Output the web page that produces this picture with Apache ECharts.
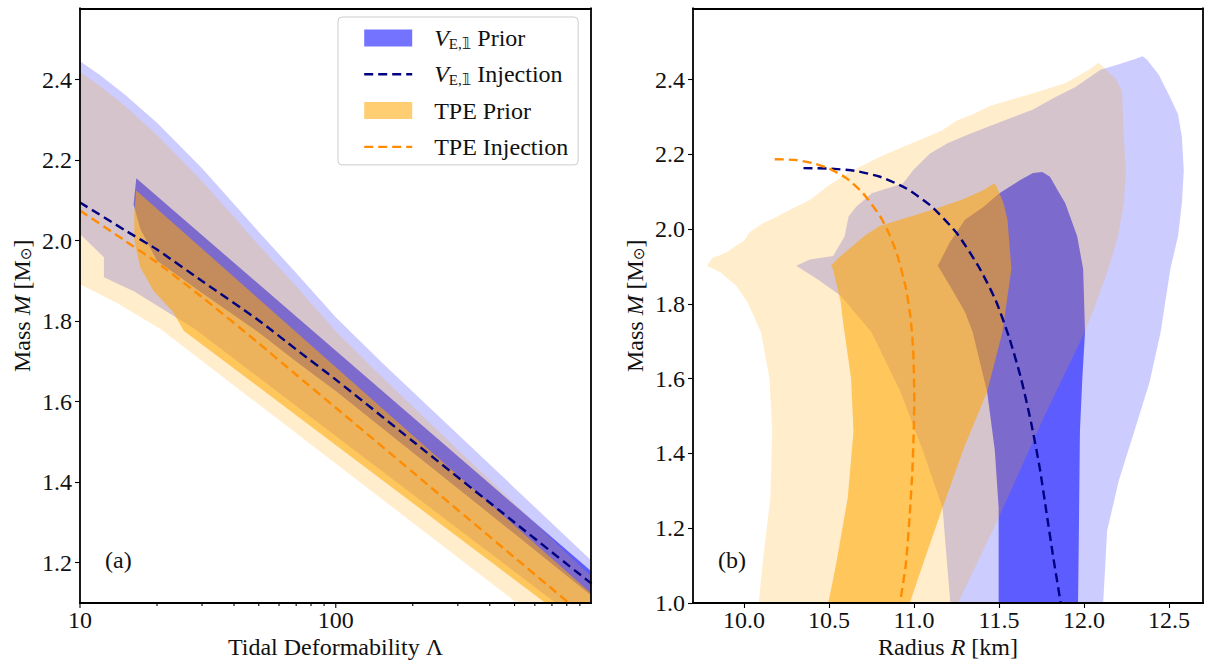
<!DOCTYPE html>
<html>
<head>
<meta charset="utf-8">
<script src="https://cdn.jsdelivr.net/npm/echarts@6.0.0/dist/echarts.min.js"></script>
<style>html,body{margin:0;padding:0;background:#fff}#c{width:1207px;height:662px}</style>
</head>
<body>
<div id="c"></div>
<script>
// ---------------- DATA ----------------
// Axis tick values
const LAMBDA_TICKS = [10, 100];
const LAMBDA_MINOR = [20, 30, 40, 50, 60, 70, 80, 90, 200, 300, 400, 500, 600, 700, 800, 900];
const MASS_TICKS_A = [1.2, 1.4, 1.6, 1.8, 2.0, 2.2, 2.4];
const MASS_TICKS_B = [1.0, 1.2, 1.4, 1.6, 1.8, 2.0, 2.2, 2.4];
const RADIUS_TICKS = [10.0, 10.5, 11.0, 11.5, 12.0, 12.5];

// Panel (a): tidal deformability Lambda vs mass M  -- [Lambda, M]
const VE_OUTER_A = [[10,2.446],[12,2.411],[15,2.363],[20,2.293],[30,2.18],[50,2.022],[70,1.92],[100,1.81],[150,1.70],[200,1.625],[300,1.519],[500,1.386],[700,1.298],[1000,1.205],[1100,1.18],
  [1100,0.95],[724,1.1],[28.2,1.78],[16.3,1.874],[12.4,1.909],[12.4,1.959],[10,2.017]];
const VE_INNER_A = [[16.6,2.155],[1000,1.178],[1100,1.155],[1100,1.094],[1000,1.118],[500,1.272],[200,1.474],[100,1.627],[70,1.70],[50,1.772],[30,1.87],[20,1.95],[17.2,2.03],[16.2,2.09]];
const TPE_OUTER_A = [[10,2.42],[12,2.384],[15,2.335],[20,2.263],[30,2.148],[50,1.989],[70,1.887],[100,1.775],[150,1.664],[200,1.588],[300,1.481],[500,1.347],[700,1.259],[1000,1.165],[1100,1.14],
  [1100,0.9],[600,1.066],[512,1.1],[20.7,1.78],[14,1.845],[10,1.892]];
const TPE_INNER_A = [[16.6,2.125],[1000,1.123],[1100,1.10],[1100,0.99],[661,1.1],[25.5,1.776],[23,1.825],[19.4,1.875],[17.2,1.934],[16.3,2.001],[16.3,2.07]];
const VE_INJ_A = [[10,2.095],[15,2.026],[20,1.978],[30,1.90],[50,1.802],[70,1.73],[100,1.655],[200,1.502],[500,1.30],[1000,1.148]];
const TPE_INJ_A = [[10,2.075],[15,2.0],[20,1.946],[30,1.86],[50,1.745],[70,1.667],[100,1.585],[200,1.425],[500,1.213],[1000,1.053]];

// Panel (b): radius R [km] vs mass M  -- [R, M]
const VE_OUTER_B = [[10.307,1.902],[10.387,1.919],[10.524,1.928],[10.592,1.981],[10.615,2.034],[10.66,2.06],[10.752,2.096],[10.934,2.122],[11.0,2.16],[11.094,2.202],[11.2,2.23],[11.322,2.254],[11.55,2.294],[11.7,2.32],[11.824,2.351],[11.95,2.38],[12.097,2.426],[12.2,2.44],[12.30,2.455],[12.345,2.462],
  [12.371,2.453],[12.44,2.413],[12.508,2.351],[12.553,2.307],[12.576,2.246],[12.587,2.157],[12.576,2.069],[12.553,1.981],[12.508,1.893],[12.451,1.725],[12.386,1.591],[12.295,1.458],[12.204,1.326],[12.136,1.193],[12.113,1.0],
  [11.214,1.0],[11.19,1.13],[11.168,1.255],[11.05,1.41],[10.92,1.565],[10.75,1.724],[10.569,1.822],[10.432,1.866]];
const VE_INNER_B = [[11.14,1.902],[11.21,1.964],[11.30,2.025],[11.41,2.06],[11.50,2.095],[11.62,2.13],[11.70,2.15],[11.755,2.153],[11.80,2.14],[11.85,2.10],[11.89,2.069],[11.96,1.981],[11.995,1.893],[12.006,1.725],[11.99,1.6],[11.976,1.458],[11.97,1.193],[11.965,1.0],
  [11.498,1.0],[11.498,1.255],[11.475,1.41],[11.43,1.565],[11.345,1.725],[11.30,1.778],[11.21,1.849]];
const TPE_OUTER_B = [[9.782,1.902],[9.816,1.924],[9.86,1.93],[9.908,1.941],[9.95,1.955],[9.999,1.968],[10.03,1.99],[10.06,2.0],[10.113,2.016],[10.18,2.03],[10.25,2.047],[10.387,2.078],[10.45,2.10],[10.501,2.118],[10.638,2.157],[10.797,2.193],[10.98,2.228],[11.162,2.263],[11.25,2.29],[11.345,2.307],[11.45,2.33],[11.55,2.343],[11.71,2.365],[11.892,2.391],[12.029,2.426],[12.086,2.445],
  [12.12,2.43],[12.19,2.40],[12.223,2.369],[12.234,2.246],[12.246,2.157],[12.234,2.069],[12.2,1.981],[12.143,1.893],[12.074,1.805],[12.0,1.72],[11.77,1.503],[11.498,1.228],[11.259,1.0],
  [10.087,1.0],[10.109,1.104],[10.155,1.281],[10.166,1.458],[10.15,1.6],[10.10,1.724],[10.02,1.805],[9.953,1.849],[9.862,1.884]];
const TPE_INNER_B = [[10.512,1.902],[10.546,1.919],[10.60,1.94],[10.66,1.963],[10.706,1.981],[10.797,2.008],[10.98,2.034],[11.162,2.06],[11.299,2.082],[11.413,2.105],[11.47,2.122],[11.482,2.118],[11.527,2.069],[11.55,2.025],[11.573,1.893],[11.52,1.724],[11.43,1.565],[11.293,1.414],[11.168,1.255],[11.066,1.122],[10.975,1.0],
  [10.496,1.0],[10.542,1.104],[10.61,1.281],[10.644,1.458],[10.63,1.6],[10.58,1.76],[10.569,1.805],[10.523,1.893]];
const TPE_INJ_B = [[10.181,2.187],[10.30,2.185],[10.40,2.177],[10.50,2.162],[10.60,2.137],[10.70,2.096],[10.80,2.035],[10.85,1.991],[10.90,1.933],[10.95,1.847],[10.98,1.762],[10.995,1.68],[11.0,1.60],[11.002,1.55],[10.998,1.45],[10.99,1.35],[10.975,1.237],[10.952,1.104],[10.918,1.0]];
const VE_INJ_B = [[10.35,2.163],[10.50,2.162],[10.65,2.156],[10.80,2.14],[10.95,2.11],[11.10,2.062],[11.25,1.99],[11.38,1.90],[11.48,1.81],[11.56,1.71],[11.63,1.60],[11.69,1.48],[11.74,1.36],[11.78,1.24],[11.82,1.12],[11.863,1.0]];

// ---------------- STYLE ----------------
const FONT = '"Liberation Serif", "DejaVu Serif", serif';
const FONT_SUB = '"Liberation Serif", "DejaVu Sans", "DejaVu Serif", serif';
const FS = 24;
const TXT = '#111';
const BLUE_OUT = 'rgba(0,0,255,0.2)';
const BLUE_IN = 'rgba(0,0,255,0.55)';
const ORG_OUT = 'rgba(255,165,0,0.2)';
const ORG_IN = 'rgba(255,165,0,0.55)';
const NAVY = '#000080';
const DKORANGE = '#FF8C00';
const DASH = [9, 5];
const Y_A = { min: 1.1, max: 2.577 };
const Y_B = { min: 1.0, max: 2.59 };
const X_A = { min: 10, max: 995 };
const X_B = { min: 9.7, max: 12.7 };

const chart = echarts.init(document.getElementById('c'), null, { renderer: 'svg' });

function fill(name, ax, pts, color) {
  return {
    type: 'custom', name: name, xAxisIndex: ax, yAxisIndex: ax, clip: true, silent: true,
    itemStyle: { color: color },
    data: [pts[0]],
    renderItem: function (params, api) {
      return { type: 'polygon', shape: { points: pts.map(function (p) { return api.coord(p); }) },
               style: { fill: color, stroke: null } };
    }
  };
}
function dashed(name, ax, pts, color) {
  return {
    type: 'line', name: name, xAxisIndex: ax, yAxisIndex: ax, data: pts, symbol: 'none', showSymbol: false,
    smooth: 0.2, clip: true, silent: true, z: 3,
    itemStyle: { color: color },
    lineStyle: { color: color, width: 2.4, type: DASH }
  };
}
function logTicks(values, len) {
  return {
    type: 'custom', xAxisIndex: 0, yAxisIndex: 0, clip: false, silent: true, z: 10,
    data: values.map(function (v) { return [v, Y_A.min]; }),
    renderItem: function (params, api) {
      const p = api.coord([api.value(0), api.value(1)]);
      return { type: 'line', shape: { x1: p[0], y1: p[1], x2: p[0], y2: p[1] + len },
               style: { stroke: '#000', lineWidth: 1.1 } };
    }
  };
}

const frame = { show: true, onZero: false, lineStyle: { color: '#000', width: 1.8, cap: 'square' } };
const tickStyle = { color: '#000', width: 1.1 };
const labelBase = { fontFamily: FONT, fontSize: FS, color: TXT };
const xLabel = Object.assign({ lineHeight: 20, margin: 7 }, labelBase);
const richBase = {
  t: { fontFamily: FONT, fontSize: FS, color: TXT, lineHeight: 22 },
  i: { fontFamily: FONT, fontSize: FS, color: TXT, fontStyle: 'italic', lineHeight: 22 },
  s: { fontFamily: FONT_SUB, fontSize: 15, color: TXT, lineHeight: 13, verticalAlign: 'bottom' },
  g: { width: 17 }
};
const legendRich = {
  t: { fontFamily: FONT, fontSize: FS, color: TXT, lineHeight: 26 },
  i: { fontFamily: FONT, fontSize: FS, color: TXT, fontStyle: 'italic', lineHeight: 26 },
  s: { fontFamily: FONT_SUB, fontSize: 15, color: TXT, lineHeight: 15, verticalAlign: 'bottom' },
  g: { width: 17 }
};
function sideAxis(grid, pos) {
  return { gridIndex: grid, type: 'value', position: pos, min: 0, max: 1, z: 10,
    axisLine: frame, axisTick: { show: false }, axisLabel: { show: false }, splitLine: { show: false } };
}

const option = {
  animation: false,
  backgroundColor: '#fff',
  grid: [
    { left: 80, top: 8.5, width: 511, height: 594.5, containLabel: false, outerBoundsMode: 'none' },
    { left: 693, top: 8.5, width: 510, height: 594.5, containLabel: false, outerBoundsMode: 'none' }
  ],
  xAxis: [
    { gridIndex: 0, type: 'log', logBase: 10, min: X_A.min, max: X_A.max, position: 'bottom', z: 10,
      axisLine: frame, axisTick: { show: false }, splitLine: { show: false }, minorTick: { show: false },
      axisLabel: Object.assign({ showMaxLabel: false,
        formatter: function (v) { return LAMBDA_TICKS.indexOf(Math.round(v)) >= 0 ? String(Math.round(v)) : ''; } }, xLabel),
      name: '{t|Tidal Deformability Λ}', nameLocation: 'middle', nameGap: 33, nameMoveOverlap: false,
      nameTextStyle: Object.assign({ rich: richBase, lineHeight: 22 }, labelBase) },
    { gridIndex: 1, type: 'value', min: X_B.min, max: X_B.max, position: 'bottom', z: 10,
      axisLine: frame, splitLine: { show: false },
      axisTick: { customValues: RADIUS_TICKS, length: 5, lineStyle: tickStyle },
      axisLabel: Object.assign({ customValues: RADIUS_TICKS, formatter: function (v) { return v.toFixed(1); } }, xLabel),
      name: '{t|Radius }{i|R}{t| [km]}', nameLocation: 'middle', nameGap: 33, nameMoveOverlap: false,
      nameTextStyle: Object.assign({ rich: richBase, lineHeight: 22 }, labelBase) },
    sideAxis(0, 'top'),
    sideAxis(1, 'top')
  ],
  yAxis: [
    { gridIndex: 0, type: 'value', min: Y_A.min, max: Y_A.max, position: 'left', z: 10,
      axisLine: frame, splitLine: { show: false },
      axisTick: { customValues: MASS_TICKS_A, length: 5, lineStyle: tickStyle },
      axisLabel: Object.assign({ customValues: MASS_TICKS_A, margin: 8, formatter: function (v) { return v.toFixed(1); } }, labelBase),
      name: '{t|Mass }{i|M}{t| [M}{s|⊙}{t|]}', nameLocation: 'middle', nameRotate: 90, nameGap: 47, nameMoveOverlap: false,
      nameTextStyle: Object.assign({ rich: richBase }, labelBase) },
    { gridIndex: 1, type: 'value', min: Y_B.min, max: Y_B.max, position: 'left', z: 10,
      axisLine: frame, splitLine: { show: false },
      axisTick: { customValues: MASS_TICKS_B, length: 5, lineStyle: tickStyle },
      axisLabel: Object.assign({ customValues: MASS_TICKS_B, margin: 8, formatter: function (v) { return v.toFixed(1); } }, labelBase),
      name: '{t|Mass }{i|M}{t| [M}{s|⊙}{t|]}', nameLocation: 'middle', nameRotate: 90, nameGap: 47, nameMoveOverlap: false,
      nameTextStyle: Object.assign({ rich: richBase }, labelBase) },
    sideAxis(0, 'right'),
    sideAxis(1, 'right')
  ],
  legend: {
    orient: 'vertical', left: 338, top: 17, padding: [8, 10, 5, 25],
    itemWidth: 48, itemHeight: 17, itemGap: 10.3,
    backgroundColor: 'rgba(255,255,255,0.8)', borderColor: '#cccccc', borderWidth: 1, borderRadius: 4,
    selectedMode: false,
    data: [
      { name: 'VE Prior', icon: 'rect' },
      { name: 'VE Injection', itemStyle: { opacity: 0 }, lineStyle: { color: NAVY, width: 2.4, type: DASH } },
      { name: 'TPE Prior', icon: 'rect' },
      { name: 'TPE Injection', itemStyle: { opacity: 0 }, lineStyle: { color: DKORANGE, width: 2.4, type: DASH } }
    ],
    textStyle: Object.assign({ lineHeight: 26, rich: legendRich }, labelBase),
    formatter: function (name) {
      if (name === 'VE Prior') return '{g| }{i|V}{s|E,𝟙}{t| Prior}';
      if (name === 'VE Injection') return '{g| }{i|V}{s|E,𝟙}{t| Injection}';
      if (name === 'TPE Prior') return '{g| }{t|TPE Prior}';
      return '{g| }{t|TPE Injection}';
    }
  },
  graphic: [
    { type: 'text', left: 105, top: 548, z: 20, style: { text: '(a)', font: FS + 'px ' + FONT, fill: TXT } },
    { type: 'text', left: 718, top: 548, z: 20, style: { text: '(b)', font: FS + 'px ' + FONT, fill: TXT } }
  ],
  series: [
    fill('VE Prior outer', 0, VE_OUTER_A, BLUE_OUT),
    fill('VE Prior', 0, VE_INNER_A, BLUE_IN),
    fill('TPE Prior outer', 0, TPE_OUTER_A, ORG_OUT),
    fill('TPE Prior', 0, TPE_INNER_A, ORG_IN),
    dashed('VE Injection', 0, VE_INJ_A, NAVY),
    dashed('TPE Injection', 0, TPE_INJ_A, DKORANGE),
    fill('VE Prior outer', 1, VE_OUTER_B, BLUE_OUT),
    fill('VE Prior', 1, VE_INNER_B, BLUE_IN),
    fill('TPE Prior outer', 1, TPE_OUTER_B, ORG_OUT),
    fill('TPE Prior', 1, TPE_INNER_B, ORG_IN),
    dashed('VE Injection', 1, VE_INJ_B, NAVY),
    dashed('TPE Injection', 1, TPE_INJ_B, DKORANGE),
    logTicks(LAMBDA_TICKS, 5),
    logTicks(LAMBDA_MINOR, 3)
  ]
};
chart.setOption(option);
</script>
</body>
</html>
